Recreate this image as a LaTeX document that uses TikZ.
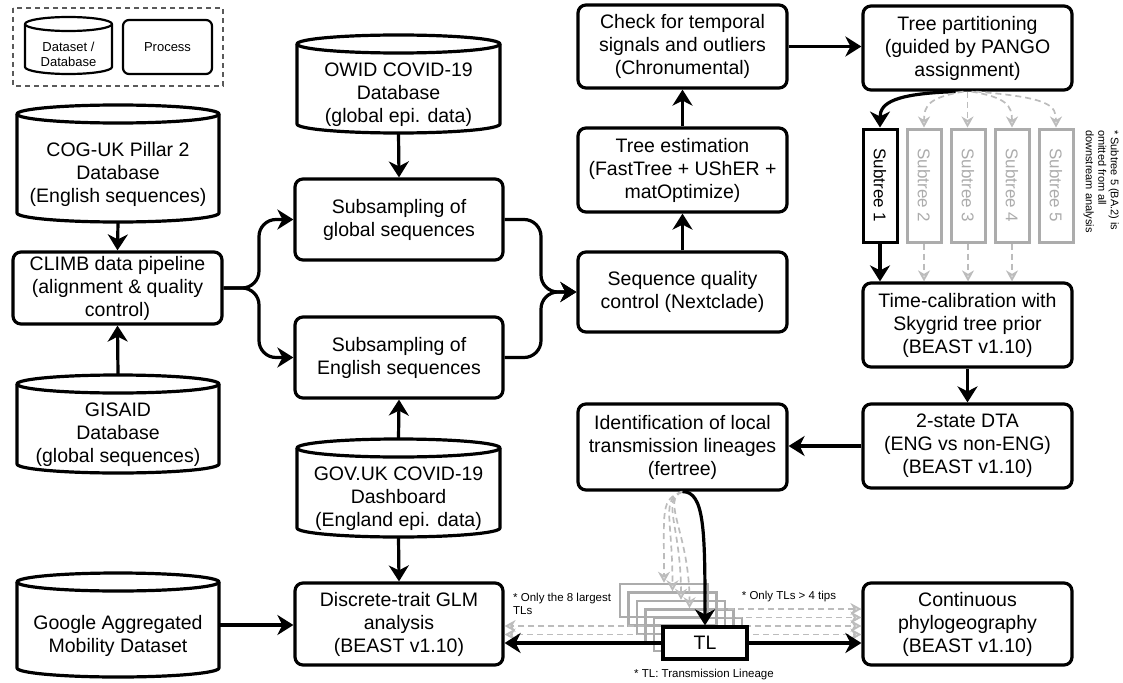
\documentclass[tikz,border=0pt]{standalone}
\usepackage{fontspec}
\setmainfont{Liberation Sans}
\usetikzlibrary{arrows.meta,calc}
\definecolor{lightg}{RGB}{188,188,188}
\definecolor{boxg}{RGB}{172,172,172}
\definecolor{legg}{RGB}{90,90,90}
\newcommand{\DBcyl}[8]{%
  \pgfmathsetmacro{\cxA}{(#2+#4)/2}%
  \pgfmathsetmacro{\rxA}{(#4-#2)/2}%
  \pgfmathsetmacro{\kxA}{0.5523*\rxA}%
  \pgfmathsetmacro{\kyA}{0.5523*#6}%
  \draw[cylline,#7] (#2,#3+#6) -- (#2,#5-#6) .. controls (#2,#5-#6+\kyA) and (\cxA-\kxA,#5) .. (\cxA,#5) .. controls (\cxA+\kxA,#5) and (#4,#5-#6+\kyA) .. (#4,#5-#6) -- (#4,#3+#6);
  \draw[cylline,#7] (\cxA,#3+#6) ellipse [x radius=\rxA pt, y radius=#6 pt];
  \node[inner sep=0, minimum width={(#4-#2)*1pt}, minimum height={(#5-#3)*1pt}] (#1) at (\cxA,{(#3+#5)/2}) {};
  \node[align=center, inner sep=0, mainfont, #7] at (\cxA,{(#3+2*#6+#5)/2+2}) {#8};
}
\newcommand{\PBox}[6]{\node[procbox, minimum width={(#4-#2)*1pt}, minimum height={(#5-#3)*1pt}] (#1) at ({(#2+#4)/2},{(#3+#5)/2}) {#6};}
\begin{document}
\begin{tikzpicture}[x=1pt,y=-1pt,
  mainfont/.style={font=\fontsize{19.5}{23}\selectfont},
  procbox/.style={draw, line width=3.2pt, rounded corners=8pt, fill=white, align=center, inner sep=0, font=\fontsize{19.5}{23}\selectfont},
  cylline/.style={line width=3.2pt, line join=round, fill=white},
  arr/.style={line width=3.2pt, -{Stealth[length=16pt,width=20pt,inset=5pt]}},
  garr/.style={draw=lightg, line width=1.7pt, dash pattern=on 6pt off 4pt, -{Stealth[length=11pt,width=12pt,inset=3.5pt,fill=lightg!45]}},
  graybox/.style={draw=boxg, line width=2.5pt, minimum width=88pt, minimum height=33pt, inner sep=0},
  subbox/.style={line width=3pt, minimum width=34pt, minimum height=113pt, inner sep=0},
  subtxt/.style={rotate=-90, font=\fontsize{17}{20}\selectfont},
  small/.style={font=\fontsize{11.5}{13}\selectfont, inner sep=0},
]
\useasboundingbox (0,0) rectangle (1123,682);

% legend
\draw[legg, line width=1.5pt, dash pattern=on 5pt off 4pt] (13,8) rectangle (223,86);
\DBcyl{legc}{25}{17}{112}{74}{7}{line width=2.2pt, font=\fontsize{13}{15}\selectfont}{Dataset /\\Database}
\node[draw, line width=2.2pt, rounded corners=6pt, minimum width=89pt, minimum height=54pt, inner sep=0, font=\fontsize{13}{15}\selectfont] (legp) at (167.5,47) {Process};

% left column
\DBcyl{cog}{17}{105}{219}{222}{9}{}{COG-UK Pillar 2\\Database\\(English sequences)}
\PBox{climb}{13}{252}{222}{324}{CLIMB data pipeline\\(alignment \& quality\\control)}
\DBcyl{gis}{17}{375}{219}{473}{9}{}{GISAID\\Database\\(global sequences)}
\DBcyl{goo}{17}{573}{219}{677}{9}{}{Google Aggregated\\Mobility Dataset}

% second column
\DBcyl{owid}{297}{35}{500}{133}{9}{}{OWID COVID-19\\Database\\(global epi. data)}
\PBox{sg}{295}{179}{503}{260}{Subsampling of\\global sequences}
\PBox{se}{295}{317}{503}{398}{Subsampling of\\English sequences}
\DBcyl{gov}{297}{439}{500}{537}{9}{}{GOV.UK COVID-19\\Dashboard\\(England epi. data)}
\PBox{dis}{295}{583}{503}{665}{Discrete-trait GLM\\analysis\\(BEAST v1.10)}

% third column
\PBox{chk}{578}{5}{787}{88}{Check for temporal\\signals and outliers\\(Chronumental)}
\PBox{te}{578}{128}{787}{212}{Tree estimation\\(FastTree + UShER +\\matOptimize)}
\PBox{sqc}{578}{252}{787}{332}{Sequence quality\\control (Nextclade)}
\PBox{idf}{578}{404}{787}{490}{Identification of local\\transmission lineages\\(fertree)}

% fourth column
\PBox{tp}{863}{6}{1072}{90}{Tree partitioning\\(guided by PANGO\\assignment)}
\node[subbox, draw=black] (s1) at (880,185.5) {};
\node[subbox, draw=boxg] (s2) at (924,185.5) {};
\node[subbox, draw=boxg] (s3) at (968,185.5) {};
\node[subbox, draw=boxg] (s4) at (1012,185.5) {};
\node[subbox, draw=boxg] (s5) at (1056,185.5) {};
\node[subtxt] at (s1) {Subtree 1};
\node[subtxt, text=boxg] at (s2) {Subtree 2};
\node[subtxt, text=boxg] at (s3) {Subtree 3};
\node[subtxt, text=boxg] at (s4) {Subtree 4};
\node[subtxt, text=boxg] at (s5) {Subtree 5};
\node[rotate=-90, anchor=north west, align=left, inner sep=0, font=\fontsize{11}{12.5}\selectfont] (note) at (1119,130) {* Subtree 5 (BA.2) is\\omitted from all\\downstream analysis};
\PBox{tc}{863}{283}{1072}{367}{Time-calibration with\\Skygrid tree prior\\(BEAST v1.10)}
\PBox{dta}{863}{404}{1072}{488}{2-state DTA\\(ENG vs non-ENG)\\(BEAST v1.10)}
\PBox{co}{863}{583}{1072}{665}{Continuous\\phylogeography\\(BEAST v1.10)}

% transmission lineage stack
\foreach \k in {0,...,4} {\node[graybox] (g\k) at ({664+8.5*\k},{600.5+8.5*\k}) {};}
\foreach \k in {0,...,3} {\draw[garr] (idf.south) .. controls +(-22,8) and +(0,-75) .. (g\k.north);}
\foreach \k in {1,...,4} {\draw[garr] (g\k.east) -- (g\k.east -| co.west);}
\foreach \k in {3,4} {\draw[garr] (g\k.west) -- (g\k.west -| dis.east);}
\node[draw, line width=3.2pt, fill=white, minimum width=84pt, minimum height=32pt, inner sep=0, font=\fontsize{19.5}{23}\selectfont] (tl) at (705,643) {TL};

\node[small, anchor=north west, align=left] (l8) at (513,593) {* Only the 8 largest\\TLs};
\node[small] (l4) at (789,597) {* Only TLs > 4 tips};
\node[small] (ltl) at (704,675) {* TL: Transmission Lineage};

% connectors
\draw[arr] (cog.south) -- (climb.north);
\draw[arr] (gis.north) -- (climb.south);
\coordinate (j1) at (259,0);
\coordinate (j2) at (541,0);
\draw[arr, rounded corners=17pt] (climb.east) -| (j1 |- sg.west) -- (sg.west);
\draw[arr, rounded corners=17pt] (climb.east) -| (j1 |- se.west) -- (se.west);
\draw[arr, rounded corners=17pt] (sg.east) -| (j2 |- sqc.west) -- (sqc.west);
\draw[arr, rounded corners=17pt] (se.east) -| (j2 |- sqc.west) -- (sqc.west);
\draw[arr] (owid.south) -- (sg.north);
\draw[arr] (gov.north) -- (se.south);
\draw[arr] (gov.south) -- (dis.north);
\draw[arr] (goo.east) -- (goo.east -| dis.west);
\draw[arr] (sqc.north) -- (te.south);
\draw[arr] (te.north) -- (chk.south);
\draw[arr] (chk.east) -- (chk.east -| tp.west);
\draw[arr] ($(tp.south)+(-12,0)$) .. controls +(-60,2) and +(0,-25) .. (s1.north);
\draw[garr] ($(tp.south)+(-4,0)$) .. controls +(-35,6) and +(0,-22) .. (s2.north);
\draw[garr] (tp.south) -- (tp.south |- s3.north);
\draw[garr] ($(tp.south)+(4,0)$) .. controls +(35,6) and +(0,-22) .. (s4.north);
\draw[garr] ($(tp.south)+(8,0)$) .. controls +(75,6) and +(0,-22) .. (s5.north);
\draw[arr] (s1.south) -- (s1.south |- tc.north);
\foreach \i in {2,3,4} {\draw[garr] (s\i.south) -- (s\i.south |- tc.north);}
\draw[arr] (tc.south) -- (dta.north);
\draw[arr] (dta.west) -- (dta.west -| idf.east);
\draw[arr] (idf.south) .. controls +(22,0) and +(0,-95) .. (tl.north);
\draw[arr] (tl.west) -- (tl.west -| dis.east);
\draw[arr] (tl.east) -- (tl.east -| co.west);
\end{tikzpicture}
\end{document}
